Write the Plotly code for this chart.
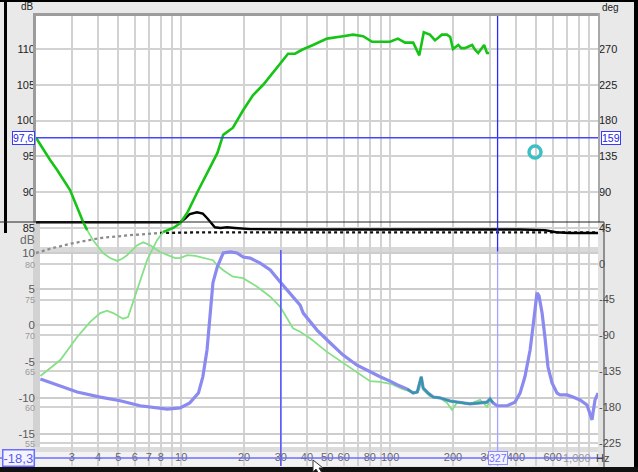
import math
import plotly.graph_objects as go

# ---------------- data ----------------
# Green curve A (level, left dB axis of upper plot)
A_freq = [2.02, 2.19, 2.36, 2.55, 2.94, 3.40, 3.55, 3.79, 4.23, 4.57, 4.94, 5.22, 5.51, 6.16, 6.58,
          7.11, 7.93, 8.57, 9.36, 9.89, 10.7, 11.7, 12.3, 14.2, 14.9, 15.9, 17.7, 19.8, 23.1, 26.7,
          29.8, 34.3, 37.1, 41.4, 49.9, 59.6, 69.5, 80.2, 89.6, 102, 115, 132, 138, 141, 144,
          155, 173, 187, 198, 209, 216, 234, 249, 270, 279, 291, 298]
A_db = [97.6, 95.9, 94.5, 93.1, 90.3, 85.8, 84.7, 83.3, 81.5, 80.8, 80.4, 80.7, 81.2, 82.6, 83.0,
        82.6, 81.65, 81.2, 80.8, 80.8, 81.2, 81.1, 80.95, 80.5, 79.8, 79.1, 78.2, 78.0, 76.8, 75.4,
        74.0, 71.0, 70.5, 69.6, 67.7, 66.15, 64.9, 63.6, 63.5, 63.2, 62.5, 62.0, 62.4, 64.05, 62.4,
        61.5, 61.25, 60.6, 59.6, 60.6, 60.7, 60.4, 60.6, 61.0, 60.6, 60.0, 60.6]

# Green curve B (phase, right deg axis)
B_freq = [2.12, 2.36, 2.64, 3.18, 3.67, 4.10, 4.42, 4.73, 5.27, 5.57, 5.89, 6.36, 6.88, 7.68, 8.20,
          9.16, 9.89, 10.7, 11.9, 13.3, 14.9, 15.9, 17.7, 19.8, 22.1, 24.7, 27.6, 30.4, 32.5, 35.1,
          37.9, 42.8, 49.9, 59.6, 66.5, 74.3, 82.0, 100, 109, 118, 129, 138, 145, 155, 164, 170,
          177, 187, 194, 200, 212, 219, 228, 247, 255, 264, 276, 282, 291, 298]
B_deg = [-141, -131, -121, -92, -73, -62, -59, -62, -69, -67, -48, -24, 5, 30, 40,
         45, 51, 64, 89, 114, 139, 162, 171, 193, 212, 225, 241, 254, 264, 264,
         269, 275, 283, 286, 288, 286, 279, 279, 283, 278, 278, 262, 291, 288, 281, 284,
         288, 288, 285, 270, 275, 271, 271, 275, 269, 265, 272, 275, 265, 265]

# Black solid curve (dB)
K_freq = [2.02, 9.89, 10.45, 11.0, 11.9, 12.7, 13.3, 13.8, 14.5, 15.4, 16.6, 18.1, 21.4, 37.1,
          112, 270, 325, 419, 551, 623, 726, 989]
K_db = [85.8, 85.8, 86.3, 86.96, 87.2, 87.0, 86.4, 85.8, 85.1, 85.0, 85.1, 85.0, 84.85, 84.8,
        84.8, 84.85, 84.9, 84.8, 84.7, 84.4, 84.3, 84.3]

# Black dotted curve (dB)
D_freq = [2.02, 2.36, 2.94, 4.10, 5.70, 7.93, 12.3, 194, 989]
D_db = [81.5, 82.1, 82.8, 83.6, 84.0, 84.3, 84.4, 84.4, 84.4]

# Blue curve of the lower plot (lower dB axis)
U_freq = [2.12, 2.64, 3.18, 4.10, 5.11, 6.36, 7.35, 8.57, 9.89, 11.0, 12.1, 12.7, 13.3, 13.8,
          14.2, 14.9, 15.9, 17.2, 18.5, 19.8, 21.4, 23.9, 26.7, 29.8, 33.2, 37.1, 38.4, 44.7,
          51.6, 59.6, 69.5, 80.2, 89.6, 100, 108, 121, 129, 135, 141, 144, 152, 161, 173, 194,
          216, 241, 270, 291, 301, 311, 325, 363, 396, 419, 442, 468, 483, 500, 505, 516, 534,
          551, 570, 596, 630, 651, 703, 751, 811, 876, 906, 926, 936, 957, 989]
U_db = [-7.4, -8.4, -9.2, -9.9, -10.4, -11.1, -11.3, -11.55, -11.4, -10.7, -9.35, -7.1, -3.4, 2.5,
        5.9, 8.1, 10.0, 10.15, 10.0, 9.45, 9.3, 8.6, 7.65, 6.0, 4.5, 2.8, 1.7, -0.65,
        -2.4, -4.1, -5.5, -6.45, -7.1, -7.7, -8.2, -8.8, -9.35, -9.2, -7.1, -8.65, -9.35, -9.9, -10.0, -10.45,
        -10.7, -10.85, -10.7, -10.6, -10.15, -10.7, -11.1, -11.1, -10.6, -9.35, -7.1, -3.4, -0.2, 3.5, 4.5, 4.1, 1.7,
        -1.6, -5.75, -7.95, -9.35, -9.6, -9.6, -9.9, -10.3, -11.0, -12.1, -13.05, -12.1, -10.3, -9.35]

# cursors / readouts
CURSOR_DB = 97.6
CURSOR_DEG_TEXT = "159"
CURSOR_FREQ = 327
LOW_CURSOR_FREQ = 30
LOW_CURSOR_DB = -18.3
RING_FREQ, RING_DB = 494, 95.6

DB_TICKS = [55, 60, 65, 70, 75, 80, 85, 90, 95, 100, 105, 110]
DEG_TICKS = [-225, -180, -135, -90, -45, 0, 45, 90, 135, 180, 225, 270]
LOW_TICKS = [-15, -10, -5, 0, 5, 10]
X_TICKS = [3, 4, 5, 6, 7, 8, 9, 10, 20, 30, 40, 50, 60, 70, 80, 90, 100, 200, 300, 400, 500, 600, 700, 800, 900]
X_LABELED = [3, 4, 5, 6, 7, 8, 10, 20, 30, 40, 50, 60, 80, 100, 200, 300, 400, 600]

# ---------------- layout geometry ----------------
W, H = 638, 472
LM, RM, TM, BM = 36, 40, 15, 6
PW, PH = W - LM - RM, H - TM - BM


def px(x):
    return (x - LM) / PW


def py(y):
    return (H - BM - y) / PH


X_RANGE = [math.log10(2.02), math.log10(989)]
Y_DB = [51.76, 114.75]
Y_DEG = [-254.2, 312.7]
Y_LOW = [-19.42, 42.87]

FONT = "Liberation Sans, Arial, sans-serif"
BRIGHT_GREEN = "#16c416"
LIGHT_GREEN = "#86e086"
BLUE = "#8a8af0"
TEAL = "#2f9aa4"

fig = go.Figure()

# dotted black (grey part under the lower screenshot, black part above)
fig.add_trace(go.Scatter(x=D_freq[:6], y=D_db[:6], mode="lines", yaxis="y",
                         line=dict(color="#8c8c8c", width=2.3, dash="dot")))
fig.add_trace(go.Scatter(x=D_freq[5:], y=D_db[5:], mode="lines", yaxis="y",
                         line=dict(color="#111111", width=2.3, dash="dot")))
# black solid
fig.add_trace(go.Scatter(x=K_freq, y=K_db, mode="lines", yaxis="y",
                         line=dict(color="#000000", width=2.4)))
# lower (faded) green parts
fig.add_trace(go.Scatter(x=A_freq[6:], y=A_db[6:], mode="lines", yaxis="y",
                         line=dict(color=LIGHT_GREEN, width=1.8)))
fig.add_trace(go.Scatter(x=B_freq[:15], y=B_deg[:15], mode="lines", yaxis="y2",
                         line=dict(color=LIGHT_GREEN, width=1.8)))
# blue lower-plot curve
fig.add_trace(go.Scatter(x=U_freq, y=U_db, mode="lines", yaxis="y3",
                         line=dict(color=BLUE, width=3.2)))
fig.add_trace(go.Scatter(x=U_freq[35:50], y=U_db[35:50], mode="lines", yaxis="y3",
                         line=dict(color=TEAL, width=2.2)))
# upper bright green parts
fig.add_trace(go.Scatter(x=A_freq[:7], y=A_db[:7], mode="lines", yaxis="y",
                         line=dict(color=BRIGHT_GREEN, width=2.6)))
fig.add_trace(go.Scatter(x=B_freq[14:], y=B_deg[14:], mode="lines", yaxis="y2",
                         line=dict(color=BRIGHT_GREEN, width=2.6)))
# vertical cursors
fig.add_trace(go.Scatter(x=[CURSOR_FREQ, CURSOR_FREQ], y=[Y_DB[1], 81.7], mode="lines", yaxis="y",
                         line=dict(color="#2a2aff", width=1.3)))
fig.add_trace(go.Scatter(x=[CURSOR_FREQ, CURSOR_FREQ], y=[81.7, Y_DB[0]], mode="lines", yaxis="y",
                         line=dict(color="#a4a4ff", width=1.3)))
fig.add_trace(go.Scatter(x=[LOW_CURSOR_FREQ, LOW_CURSOR_FREQ], y=[10.4, Y_LOW[0]], mode="lines",
                         yaxis="y3", line=dict(color="#5a5aff", width=1.6)))
# ring marker
fig.add_trace(go.Scatter(x=[RING_FREQ], y=[RING_DB], mode="markers", yaxis="y",
                         marker=dict(symbol="circle-open", size=12, color="#3cc0c4",
                                     line=dict(width=3.5))))

db_text = [str(v) if v >= 85 else f"<span style='font-size:9px;color:#9a9a9a'>{v}</span>" for v in DB_TICKS]
deg_text = [str(v) if v >= 45 else f"<span style='color:#4a4a4a'>{v}</span>" for v in DEG_TICKS]
x_text = [(f"{v}" if v in X_LABELED else "") for v in X_TICKS]

low_pos = (LOW_CURSOR_DB - Y_LOW[0]) / (Y_LOW[1] - Y_LOW[0])


def rect(x0, y0, x1, y1, fill, layer="below"):
    return dict(type="rect", xref="paper", yref="paper", x0=px(x0), x1=px(x1), y0=py(y1), y1=py(y0),
                fillcolor=fill, line=dict(width=0), layer=layer)


def hline(x0, x1, y, color, w, layer="above"):
    return dict(type="line", xref="paper", yref="paper", x0=px(x0), x1=px(x1), y0=py(y), y1=py(y),
                line=dict(color=color, width=w), layer=layer)


def vline(x, y0, y1, color, w, layer="above"):
    return dict(type="line", xref="paper", yref="paper", x0=px(x), x1=px(x), y0=py(y0), y1=py(y1),
                line=dict(color=color, width=w), layer=layer)


arrow_pts = [(313, 460), (313, 472), (316, 469), (319, 474), (322, 473), (319, 468), (323, 468)]
arrow_path = "M " + " L ".join(f"{px(a):.4f},{py(b):.4f}" for a, b in arrow_pts) + " Z"

shapes = [
    # lower screenshot frame areas
    rect(36, 452, 604, 466, "#f2f2f2"),
    rect(33, 247, 604, 252, "#d9d9d9"),
    rect(33, 222, 40, 452, "#d2d2d2"),
    rect(33, 447, 604, 452, "#dcdcdc"),
    rect(598, 222, 604, 466, "#e2e2e2"),
    # upper frame
    hline(33, 600, 14.5, "#9c9c9c", 3),
    vline(34.5, 13, 222, "#9c9c9c", 3),
    vline(599, 13, 222, "#a8a8a8", 2),
    # cursor lines
    dict(type="line", xref="paper", yref="y", x0=0, x1=1, y0=CURSOR_DB, y1=CURSOR_DB,
         line=dict(color="#4646ff", width=1.5), layer="above"),
    dict(type="line", xref="paper", yref="paper", x0=px(0), x1=px(604), y0=low_pos, y1=low_pos,
         line=dict(color="#6c6cff", width=1.5), layer="above"),
    # window borders
    rect(0, 0, 638, 2, "#000000", "above"),
    rect(4, 0, 7, 233, "#000000", "above"),
    rect(634, 0, 638, 472, "#000000", "above"),
    rect(0, 467, 638, 472, "#111111", "above"),
    hline(0, 604, 222, "#222222", 1),
    vline(604, 222, 467, "#555555", 1.2),
    dict(type="path", xref="paper", yref="paper", path=arrow_path, fillcolor="#ffffff",
         line=dict(color="#333333", width=1), layer="above"),
]

annotations = [
    dict(xref="paper", yref="paper", x=px(27), y=py(7), xanchor="center", yanchor="middle",
         text="dB", showarrow=False, font=dict(size=10, color="#222222", family=FONT)),
    dict(xref="paper", yref="paper", x=px(610), y=py(7.5), xanchor="center", yanchor="middle",
         text="deg", showarrow=False, font=dict(size=10, color="#222222", family=FONT)),
    dict(xref="paper", yref="paper", x=px(27), y=py(239.5), xanchor="center", yanchor="middle",
         text="dB", showarrow=False, font=dict(size=12, color="#6a6a6a", family=FONT)),
    dict(xref="paper", yref="y", x=px(35), y=CURSOR_DB, xanchor="right", text="97,6", showarrow=False,
         font=dict(size=10.5, color="#2626e6", family=FONT), bgcolor="#ffffff",
         bordercolor="#3a3aff", borderwidth=1, borderpad=0),
    dict(xref="paper", yref="y", x=px(601), y=CURSOR_DB, xanchor="left", text=CURSOR_DEG_TEXT,
         showarrow=False, font=dict(size=10.5, color="#2626e6", family=FONT), bgcolor="#ffffff",
         bordercolor="#3a3aff", borderwidth=1, borderpad=0),
    dict(xref="paper", yref="y3", x=px(2), y=LOW_CURSOR_DB, xanchor="left", text="-18,3",
         showarrow=False, font=dict(size=13, color="#5a5aee", family=FONT), bgcolor="#f4f4ff",
         bordercolor="#6c6cff", borderwidth=1.5, borderpad=0),
    dict(xref="x", yref="y3", x=math.log10(CURSOR_FREQ), y=LOW_CURSOR_DB, text=str(CURSOR_FREQ),
         showarrow=False, font=dict(size=10.5, color="#7070ff", family=FONT), bgcolor="#f4f4ff",
         bordercolor="#8c8cff", borderwidth=1, borderpad=0),
    dict(xref="paper", yref="y3", x=px(593), y=LOW_CURSOR_DB, xanchor="right", text="1,000",
         showarrow=False, font=dict(size=11, color="#999999", family=FONT)),
    dict(xref="paper", yref="y3", x=px(594), y=LOW_CURSOR_DB, xanchor="left", text="Hz",
         showarrow=False, font=dict(size=11, color="#444444", family=FONT)),
]

fig.update_layout(
    width=W, height=H,
    margin=dict(l=LM, r=RM, t=TM, b=BM, pad=0),
    paper_bgcolor="#e9e9e9", plot_bgcolor="#ffffff",
    showlegend=False,
    font=dict(family=FONT, size=11, color="#222222"),
    xaxis=dict(type="log", range=X_RANGE, tickvals=X_TICKS, ticktext=x_text, ticks="",
               ticklabelposition="inside", tickfont=dict(size=11, color="#666666"),
               showgrid=True, gridcolor="#d2d2d2", gridwidth=2, zeroline=False, showline=False,
               automargin=False, fixedrange=True),
    yaxis=dict(range=Y_DB, tickvals=DB_TICKS, ticktext=db_text, ticks="", side="left",
               showgrid=True, gridcolor="#d2d2d2", gridwidth=2, zeroline=False, showline=False,
               automargin=False, tickfont=dict(size=11, color="#222222")),
    yaxis2=dict(range=Y_DEG, tickvals=DEG_TICKS, ticktext=deg_text, ticks="", side="right",
                overlaying="y", anchor="x", showgrid=False, zeroline=False, showline=False,
                automargin=False, tickfont=dict(size=11, color="#222222")),
    yaxis3=dict(range=Y_LOW, tickvals=LOW_TICKS, ticktext=[str(v) for v in LOW_TICKS], ticks="",
                side="left", overlaying="y", anchor="x", showgrid=True, gridcolor="#cdcdcd",
                gridwidth=2, zeroline=False, showline=False, automargin=False,
                tickfont=dict(size=11.5, color="#5a5a5a")),
    shapes=shapes,
    annotations=annotations,
)

fig.write_html("out.html", config={"displayModeBar": False},
               post_script="document.body.style.margin='0';document.body.style.overflow='hidden';")
